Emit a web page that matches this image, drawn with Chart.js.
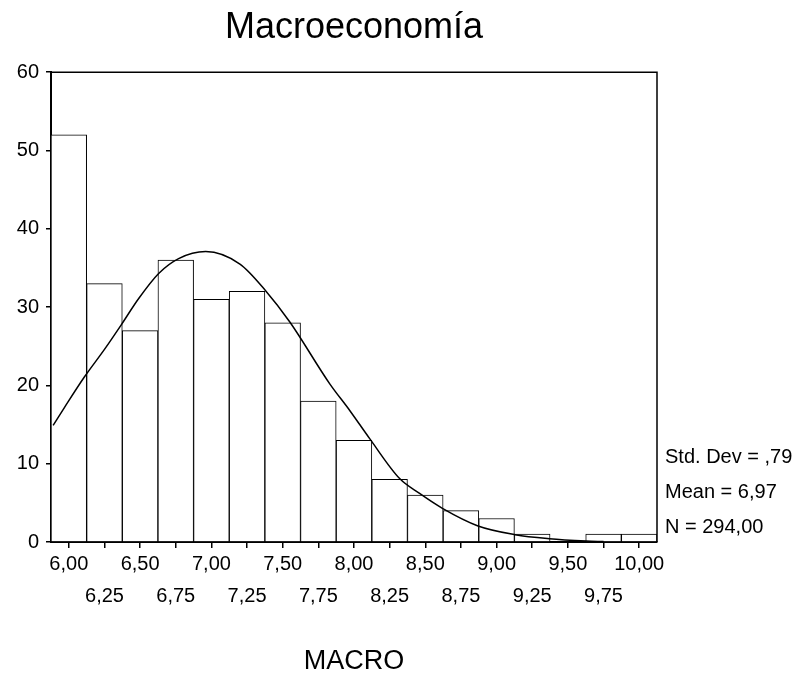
<!DOCTYPE html>
<html>
<head>
<meta charset="utf-8">
<script src="https://cdn.jsdelivr.net/npm/chart.js@4.4.1/dist/chart.umd.min.js"></script>
<style>
  body { margin: 0; background: #fff; }
  #wrap { width: 801px; height: 679px; }
</style>
</head>
<body>
<div id="wrap"><canvas id="histChart"></canvas></div>
<script>
// histogram bins (centers) and counts
var binCenters = [6.00, 6.25, 6.50, 6.75, 7.00, 7.25, 7.50, 7.75, 8.00, 8.25, 8.50, 8.75, 9.00, 9.25, 9.50, 9.75, 10.00];
var counts = [52, 33, 27, 36, 31, 32, 28, 18, 13, 8, 6, 4, 3, 1, 0, 1, 1];

// normal curve
var curveX = [5.89, 5.97, 6.11, 6.25, 6.37, 6.49, 6.63, 6.77, 6.96, 7.20, 7.38, 7.55, 7.83, 7.97, 8.11, 8.32, 8.46, 8.62, 8.87, 9.13, 9.37, 9.63, 9.75];
var curveY = [14.9, 17.2, 21.1, 24.6, 27.8, 31.1, 34.3, 36.2, 37.1, 35.5, 32.1, 28.1, 20.2, 16.8, 13.2, 8.1, 6.2, 4.3, 2.05, 0.94, 0.43, 0.13, 0.05];

var yTicks = [0, 10, 20, 30, 40, 50, 60];

// summary stats
var stdDev = ',79';
var mean = '6,97';
var nTotal = '294,00';

var FONT = '"Liberation Sans", Arial, sans-serif';

var boxAndStats = {
  id: 'boxAndStats',
  afterDraw: function(chart) {
    var a = chart.chartArea, ctx = chart.ctx;
    ctx.save();
    ctx.strokeStyle = '#000';
    ctx.lineWidth = 1.5;
    ctx.beginPath();
    ctx.moveTo(a.left, a.top);
    ctx.lineTo(a.right, a.top);
    ctx.lineTo(a.right, a.bottom);
    ctx.stroke();
    ctx.fillStyle = '#000';
    ctx.font = '20px ' + FONT;
    ctx.textBaseline = 'middle';
    ctx.textAlign = 'left';
    ctx.fillText('Std. Dev = ' + stdDev, a.right + 8, a.bottom - 85);
    ctx.fillText('Mean = ' + mean, a.right + 8, a.bottom - 49.5);
    ctx.fillText('N = ' + nTotal, a.right + 8, a.bottom - 15);
    ctx.restore();
  }
};

var ctx = document.getElementById('histChart').getContext('2d');
var chart = new Chart(ctx, {
  type: 'bar',
  data: {
    datasets: [{
      type: 'line',
      data: curveX.map(function(x, i) { return {x: x, y: curveY[i]}; }),
      borderColor: '#000',
      borderWidth: 1.5,
      pointRadius: 0,
      cubicInterpolationMode: 'monotone',
      fill: false,
      order: 0
    }, {
      type: 'bar',
      data: binCenters.map(function(x, i) { return {x: x, y: counts[i]}; }),
      backgroundColor: '#fff',
      borderColor: '#000',
      borderWidth: 1,
      barPercentage: 1,
      categoryPercentage: 1,
      order: 1
    }]
  },
  options: {
    responsive: true,
    maintainAspectRatio: false,
    animation: false,
    layout: { padding: { left: 0, top: 0, right: 144, bottom: 0 } },
    plugins: {
      legend: { display: false },
      tooltip: { enabled: false },
      title: {
        display: true,
        text: 'Macroeconomía',
        fullSize: false,
        color: '#000',
        font: { family: FONT, size: 36, weight: 'normal' },
        padding: { top: 6, bottom: 23 }
      }
    },
    scales: {
      x: {
        type: 'linear',
        min: 5.875,
        max: 10.125,
        offset: false,
        afterFit: function(s) { s.height = 137; },
        afterBuildTicks: function(s) {
          s.ticks = binCenters.map(function(v) { return {value: v}; });
        },
        ticks: {
          autoSkip: false,
          maxRotation: 0,
          padding: 0,
          color: '#000',
          font: { family: FONT, size: 20, lineHeight: 1.6 },
          callback: function(v, i) {
            var t = v.toFixed(2).replace('.', ',');
            return i % 2 === 0 ? t : ['', t];
          }
        },
        grid: { drawOnChartArea: false, drawTicks: true, tickLength: 6, color: '#000', lineWidth: 1.5, offset: false },
        border: { display: true, color: '#000', width: 2 },
        title: {
          display: true,
          text: 'MACRO',
          color: '#000',
          font: { family: FONT, size: 27 },
          padding: { top: 0, bottom: 1 }
        }
      },
      y: {
        min: 0,
        max: 60,
        afterFit: function(s) { s.width = 51; },
        afterBuildTicks: function(s) {
          s.ticks = yTicks.map(function(v) { return {value: v}; });
        },
        ticks: {
          padding: 7,
          color: '#000',
          font: { family: FONT, size: 20 }
        },
        grid: { drawOnChartArea: false, drawTicks: true, tickLength: 5, color: '#000', lineWidth: 1.5 },
        border: { display: true, color: '#000', width: 2 }
      }
    }
  },
  plugins: [boxAndStats]
});
</script>
</body>
</html>
